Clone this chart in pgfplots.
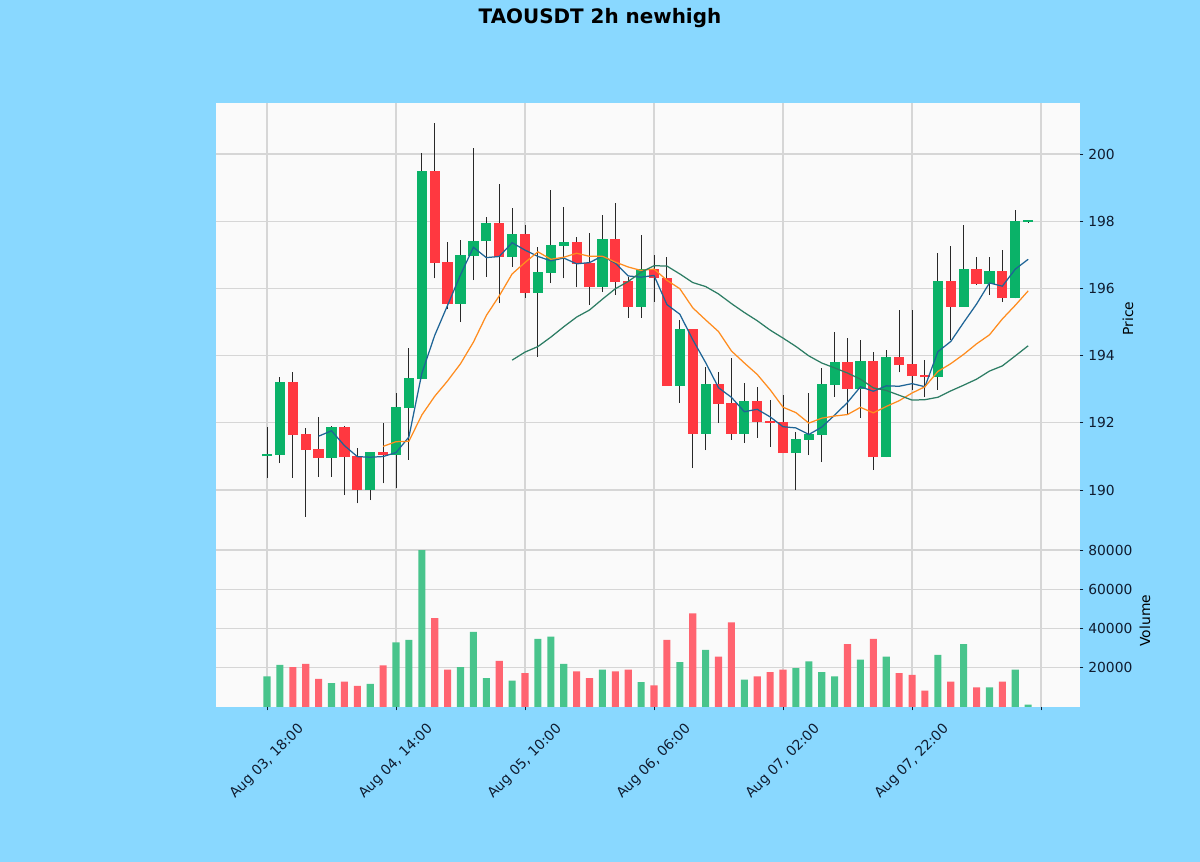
\documentclass[border=0pt]{standalone}
\usepackage{fontspec}
\setmainfont{DejaVu Sans}
\usepackage{pgfplots}
\usepackage{pgfplotstable}
\pgfplotsset{compat=1.18}

\definecolor{bgblue}{RGB}{137,216,255}
\definecolor{axbg}{RGB}{250,250,250}
\definecolor{gridc}{RGB}{214,214,214}
\definecolor{txtc}{RGB}{16,28,48}
\definecolor{upc}{RGB}{10,178,104}
\definecolor{dnc}{RGB}{255,56,64}
\definecolor{volup}{RGB}{72,196,140}
\definecolor{voldn}{RGB}{255,100,112}
\definecolor{wickc}{RGB}{40,40,40}
\definecolor{mafc}{RGB}{30,100,150}
\definecolor{matc}{RGB}{255,140,30}
\definecolor{mawc}{RGB}{45,125,100}

\pgfplotstableread{
i O H L C V
0 191.00 191.88 190.36 191.05 15600
1 191.05 193.36 190.80 193.18 21500
5 190.95 191.90 190.40 191.85 12200
8 190.00 191.13 189.70 191.10 11800
10 191.05 192.90 190.06 192.44 33000
11 192.44 194.23 190.90 193.30 34200
12 193.30 200.03 193.30 199.46 80000
15 195.54 197.44 195.00 196.96 20300
16 196.96 200.18 196.25 197.40 38300
17 197.40 198.13 196.34 197.92 14700
19 196.93 198.39 196.64 197.59 13400
21 195.86 197.23 193.96 196.46 34700
22 196.46 198.93 196.16 197.26 35900
23 197.26 198.42 196.30 197.35 22000
26 196.04 198.18 195.90 197.44 19000
29 195.45 197.59 195.12 196.55 12700
32 193.10 195.06 192.59 194.76 22900
34 191.67 193.66 191.19 193.13 29100
37 191.67 193.18 191.40 192.62 13900
41 191.10 191.73 190.00 191.49 19800
42 191.49 192.89 191.04 191.64 23200
43 191.64 193.63 190.83 193.13 17800
44 193.13 194.70 192.77 193.78 15600
46 193.00 194.46 192.14 193.81 24100
48 190.98 194.17 190.98 193.93 25700
52 193.35 197.05 192.98 196.19 26600
54 195.45 197.89 195.45 196.55 32000
56 196.13 196.93 195.80 196.49 10000
58 195.71 198.33 195.70 197.98 19000
59 197.98 198.05 197.95 198.02 1200
}\uptab

\pgfplotstableread{
i O H L C V
2 193.18 193.50 190.36 191.64 20300
3 191.64 191.85 189.20 191.19 22000
4 191.19 192.17 190.39 190.95 14400
6 191.85 191.90 189.85 190.98 13000
7 190.98 191.25 189.60 190.00 10800
9 191.10 192.00 190.20 191.05 21200
13 199.46 200.92 196.30 196.76 45300
14 196.76 197.38 195.40 195.54 19000
18 197.92 199.10 195.56 196.93 23500
20 197.59 197.89 195.71 195.86 17300
24 197.35 197.53 196.04 196.73 18100
25 196.73 197.65 195.50 196.04 14700
27 197.44 198.54 195.80 196.19 18100
28 196.19 196.34 195.12 195.45 19000
30 196.55 196.99 195.60 196.30 11000
31 196.30 196.93 193.10 193.10 34200
33 194.76 194.76 190.65 191.67 47800
35 193.13 193.50 192.00 192.56 25700
36 192.56 193.93 191.49 191.67 43200
38 192.62 193.07 191.55 192.03 15600
39 192.03 192.68 191.28 192.00 17800
40 192.00 192.83 191.10 191.10 19000
45 193.78 194.52 192.23 193.00 32000
47 193.81 194.10 190.60 190.98 34700
49 193.93 195.36 193.50 193.72 17300
50 193.72 195.36 192.98 193.39 16400
51 193.39 193.87 192.77 193.35 8300
53 196.19 197.26 194.46 195.45 13000
55 196.55 196.93 196.10 196.13 10000
57 196.49 197.14 195.60 195.71 13000
}\dntab

\pgfplotstableread{
i m
4 191.602
5 191.762
6 191.322
7 190.994
8 190.976
9 190.996
10 191.114
11 191.578
12 193.470
13 194.602
14 195.500
15 196.404
16 197.224
17 196.916
18 196.950
19 197.360
20 197.140
21 196.952
22 196.820
23 196.904
24 196.732
25 196.768
26 196.964
27 196.750
28 196.370
29 196.334
30 196.386
31 195.518
32 195.232
33 194.476
34 193.792
35 193.044
36 192.758
37 192.330
38 192.402
39 192.176
40 191.884
41 191.848
42 191.652
43 191.872
44 192.228
45 192.608
46 193.072
47 192.940
48 193.100
49 193.088
50 193.166
51 193.074
52 194.116
53 194.420
54 194.986
55 195.534
56 196.162
57 196.066
58 196.572
59 196.866
}\mafive

\pgfplotstableread{
i m
9 191.299
10 191.438
11 191.450
12 192.232
13 192.789
14 193.248
15 193.759
16 194.401
17 195.193
18 195.776
19 196.430
20 196.772
21 197.088
22 196.868
23 196.927
24 197.046
25 196.954
26 196.958
27 196.785
28 196.637
29 196.533
30 196.577
31 196.241
32 195.991
33 195.423
34 195.063
35 194.715
36 194.138
37 193.781
38 193.439
39 192.984
40 192.464
41 192.303
42 191.991
43 192.137
44 192.202
45 192.246
46 192.460
47 192.296
48 192.486
49 192.658
50 192.887
51 193.073
52 193.528
53 193.760
54 194.037
55 194.350
56 194.618
57 195.091
58 195.496
59 195.926
}\maten

\pgfplotstableread{
i m
19 193.865
20 194.105
21 194.269
22 194.550
23 194.858
24 195.147
25 195.357
26 195.680
27 195.989
28 196.207
29 196.482
30 196.675
31 196.665
32 196.430
33 196.175
34 196.055
35 195.835
36 195.548
37 195.283
38 195.038
39 194.759
40 194.521
41 194.272
42 193.991
43 193.780
44 193.633
45 193.481
46 193.299
47 193.039
48 192.963
49 192.821
50 192.676
51 192.688
52 192.760
53 192.949
54 193.120
55 193.298
56 193.539
57 193.694
58 193.991
59 194.292
}\matwenty

\pgfplotsset{
  common/.style={
    scale only axis, width=8.64in, anchor=south west,
    xmin=-3.953, xmax=63.02,
    axis background/.style={fill=axbg},
    axis line style={draw=none},
    grid=major, grid style={gridc, line width=0.9pt},
    xtick={0,10,...,60},
    tick align=outside, major tick length=2.5pt,
    ytick pos=right, yticklabel pos=right,
    tick style={txtc, line width=0.6pt},
    ticklabel style={font=\fontsize{10}{12}\selectfont, text=txtc},
    label style={font=\fontsize{10}{12}\selectfont, text=txtc},
    /pgf/number format/assume math mode=true,
    /pgf/number format/set thousands separator={},
    scaled y ticks=false,
  },
  candle/.style 2 args={draw=none, mark=none, error bars/.cd, y dir=plus, y explicit, error mark=none,
    error bar style={line width=#1, draw=#2, solid}},
}

\begin{document}
\begin{tikzpicture}
\useasboundingbox (0,0) rectangle (12in,8.62in);
\fill[bgblue] (0,0) rectangle (12in,8.62in);
\node[anchor=base, font=\fontsize{14.4}{17}\selectfont\bfseries] at (6in,8.387in) {TAOUSDT 2h newhigh};

\begin{axis}[common, at={(2.16in,3.276in)}, height=4.314in,
  ymin=188.679, ymax=201.518, ytick={190,192,...,200},
  xticklabels={}, xtick style={draw=none},
  every axis y label/.style={at={(axis description cs:1.0556,0.5)}, rotate=90, anchor=center},
  ylabel={Price}]
% wicks
\addplot[candle={0.7pt}{wickc}]
  table[x=i, y=L, y error plus expr=\thisrow{H}-\thisrow{L}] {\uptab};
\addplot[candle={0.7pt}{wickc}]
  table[x=i, y=L, y error plus expr=\thisrow{H}-\thisrow{L}] {\dntab};
% bodies
\addplot[candle={7.4pt}{upc}]
  table[x=i, y=O, y error plus expr=\thisrow{C}-\thisrow{O}+0.02] {\uptab};
\addplot[candle={7.4pt}{dnc}]
  table[x=i, y=C, y error plus expr=\thisrow{O}-\thisrow{C}+0.02] {\dntab};
% moving averages
\addplot[mafc, line width=0.9pt, mark=none] table[x=i, y=m] {\mafive};
\addplot[matc, line width=0.9pt, mark=none] table[x=i, y=m] {\maten};
\addplot[mawc, line width=0.9pt, mark=none] table[x=i, y=m] {\matwenty};
\end{axis}

\begin{axis}[common, at={(2.16in,1.55in)}, height=1.726in,
  ymin=0, ymax=88000, ytick={20000,40000,60000,80000},
  xtick pos=bottom,
  xticklabels={{Aug 03, 18:00},{Aug 04, 14:00},{Aug 05, 10:00},{Aug 06, 06:00},{Aug 07, 02:00},{Aug 07, 22:00},{}},
  xticklabel style={rotate=45, anchor=center},
  xticklabel shift=37pt,
  every axis y label/.style={at={(axis description cs:1.0752,0.5)}, rotate=90, anchor=center},
  ylabel={Volume}]
\addplot[ybar, bar width=0.55, bar shift=0pt, fill=volup, draw=none] table[x=i, y=V] {\uptab};
\addplot[ybar, bar width=0.55, bar shift=0pt, fill=voldn, draw=none] table[x=i, y=V] {\dntab};
\end{axis}
\end{tikzpicture}
\end{document}
